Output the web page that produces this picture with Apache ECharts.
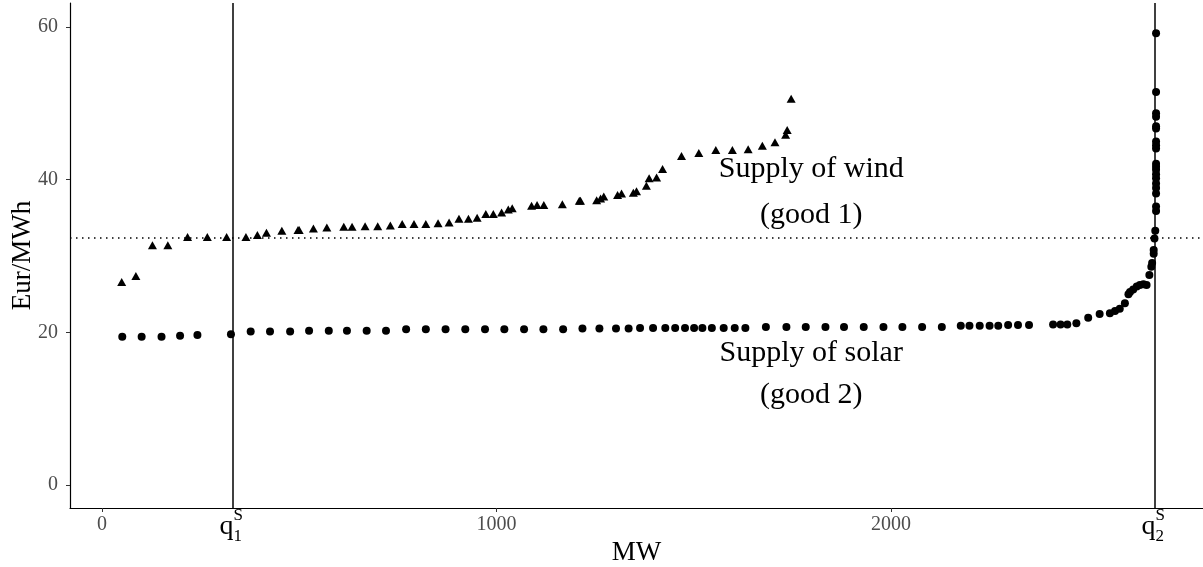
<!DOCTYPE html>
<html><head><meta charset="utf-8">
<script src="https://cdn.jsdelivr.net/npm/echarts@6/dist/echarts.min.js"></script>
<style>html,body{margin:0;padding:0;background:#fff}#c{width:1203px;height:567px}</style>
</head><body><div id="c"></div>
<script>
const windMW = [50,86,128,167,217,267,316,365,394,417,456,497,500,536,570,613,634,667,699,731,761,791,821,852,880,905,929,951,973,992,1013,1030,1040,1089,1103,1120,1167,1210,1213,1254,1264,1272,1307,1317,1347,1355,1380,1387,1406,1421,1469,1513,1556,1598,1638,1674,1706,1733,1737,1747];
const windPrice = [26.6,27.4,31.4,31.4,32.5,32.5,32.5,32.5,32.75,33.05,33.3,33.4,33.4,33.6,33.75,33.85,33.85,33.9,33.9,34.0,34.2,34.2,34.2,34.3,34.4,34.9,34.9,35.0,35.5,35.5,35.7,36.1,36.25,36.6,36.7,36.7,36.8,37.25,37.25,37.3,37.55,37.8,38.0,38.2,38.3,38.5,39.2,40.2,40.3,41.4,43.1,43.5,43.9,43.9,44.0,44.45,44.9,45.9,46.5,50.6];
const solarMW = [51.5,100.6,151,198,242,327,377,426,477,525,575,621,671,720,771,821,871,921,971,1020,1070,1119,1169,1218,1261,1303,1335,1364,1397,1428,1453,1478,1501,1522,1546,1576,1604,1631,1683,1735,1784,1834,1881,1931,1981,2029,2079,2129,2177,2199,2225,2250,2272,2297,2322,2350,2411,2430,2447,2470,2500,2529,2555,2568,2580,2593,2602,2606,2614,2623,2631,2640,2648,2655,2660,2662,2666,2666,2668,2670,2672,2672,2672,2672,2672,2672,2672,2672,2672,2672,2672,2672,2672,2672,2672,2672,2672,2672,2672];
const solarPrice = [19.43,19.43,19.43,19.56,19.65,19.74,20.1,20.1,20.1,20.2,20.2,20.2,20.2,20.2,20.4,20.4,20.4,20.4,20.4,20.4,20.4,20.4,20.4,20.5,20.5,20.5,20.5,20.57,20.57,20.57,20.57,20.57,20.57,20.57,20.57,20.57,20.57,20.57,20.7,20.7,20.7,20.7,20.7,20.7,20.7,20.7,20.7,20.7,20.86,20.86,20.86,20.86,20.86,20.95,20.95,20.95,21.04,21.04,21.04,21.2,21.9,22.4,22.5,22.8,23.1,23.8,25.0,25.3,25.6,26.0,26.2,26.3,26.2,27.5,28.6,29.1,30.3,30.8,32.3,33.3,35.9,36.5,38.2,38.9,39.5,40.2,40.7,41.3,41.7,42.1,44.1,44.5,45.0,46.7,47.0,48.25,48.7,51.5,59.2];
const xTicks = [0, 1000, 2000];
const yTicks = [0, 20, 40, 60];
const q1 = 331, q2 = 2668, pStar = 32.45;
const annotations = [
  {text: 'Supply of wind', x: 1798, y: 41.35},
  {text: '(good 1)', x: 1798, y: 35.4},
  {text: 'Supply of solar', x: 1798, y: 17.3},
  {text: '(good 2)', x: 1798, y: 11.8}
];
const qLabels = [{v: q1, sub: '1'}, {v: q2, sub: '2'}];

const FONT = '"Liberation Serif", "Times New Roman", serif';
const chart = echarts.init(document.getElementById('c'), null, {renderer: 'canvas'});
const zip = (a, b) => a.map((v, i) => [v, b[i]]);

chart.setOption({
  animation: false,
  backgroundColor: '#fff',
  grid: {left: 70, right: 0, top: 3, bottom: 59, containLabel: false, outerBoundsMode: 'none'},
  xAxis: {
    type: 'value', min: -81, max: 2791,
    name: 'MW', nameLocation: 'middle', nameGap: 30,
    nameTextStyle: {fontFamily: FONT, fontSize: 27, color: '#000'},
    axisLine: {show: true, onZero: false, lineStyle: {color: '#000', width: 1.2}},
    axisTick: {show: true, length: 4, customValues: xTicks, lineStyle: {color: '#333'}},
    axisLabel: {customValues: xTicks, formatter: v => String(v), fontFamily: FONT, fontSize: 20, color: '#4d4d4d', margin: 7},
    splitLine: {show: false}
  },
  yAxis: {
    type: 'value', min: -3.01, max: 63.15,
    name: 'Eur/MWh', nameLocation: 'middle', nameGap: 34, nameRotate: 90, nameMoveOverlap: false,
    nameTextStyle: {fontFamily: FONT, fontSize: 27, color: '#000'},
    axisLine: {show: true, onZero: false, lineStyle: {color: '#000', width: 1.2}},
    axisTick: {show: true, length: 4, customValues: yTicks, lineStyle: {color: '#333'}},
    axisLabel: {customValues: yTicks, formatter: v => String(v), fontFamily: FONT, fontSize: 20, color: '#4d4d4d', margin: 12},
    splitLine: {show: false}
  },
  series: [
    {
      type: 'scatter', name: 'wind', symbol: 'triangle', symbolSize: [9, 8],
      itemStyle: {color: '#000', opacity: 1}, data: zip(windMW, windPrice), z: 3,
      markLine: {
        silent: true, symbol: 'none', label: {show: false},
        data: [
          {xAxis: q1, lineStyle: {color: '#000', width: 1.5, type: 'solid'}},
          {xAxis: q2, lineStyle: {color: '#000', width: 1.5, type: 'solid'}},
          {yAxis: pStar, lineStyle: {color: '#000', width: 1.5, type: [1.5, 4.5]}}
        ]
      }
    },
    {
      type: 'scatter', name: 'solar', symbol: 'circle', symbolSize: 8,
      itemStyle: {color: '#000', opacity: 1}, data: zip(solarMW, solarPrice), z: 3
    }
  ]
});

function addGraphics() {
  const g = [];
  annotations.forEach(a => {
    const p = chart.convertToPixel({xAxisIndex: 0, yAxisIndex: 0}, [a.x, a.y]);
    g.push({type: 'text', x: p[0], y: p[1], silent: true,
      style: {text: a.text, font: '30px ' + FONT, fill: '#000', textAlign: 'center', textVerticalAlign: 'middle'}});
  });
  qLabels.forEach(q => {
    const px = chart.convertToPixel({xAxisIndex: 0}, q.v);
    g.push({type: 'text', x: px + 1, y: 513, silent: true,
      style: {text: 'q', font: '28px ' + FONT, fill: '#000', textAlign: 'right', textVerticalAlign: 'top'}});
    g.push({type: 'text', x: px + 1, y: 507, silent: true,
      style: {text: 'S', font: '17px ' + FONT, fill: '#000', textAlign: 'left', textVerticalAlign: 'top'}});
    g.push({type: 'text', x: px + 1, y: 528, silent: true,
      style: {text: q.sub, font: '17px ' + FONT, fill: '#000', textAlign: 'left', textVerticalAlign: 'top'}});
  });
  chart.setOption({graphic: g});
}
addGraphics();
</script></body></html>
